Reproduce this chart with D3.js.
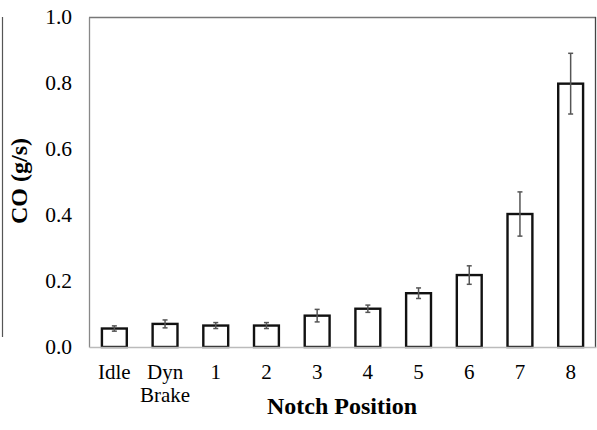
<!DOCTYPE html>
<html><head><meta charset="utf-8">
<script src="https://cdn.jsdelivr.net/npm/d3@7/dist/d3.min.js"></script>
<style>
body { margin: 0; }
svg text.t { font-family: "Liberation Serif", "Times New Roman", serif; }
</style>
</head><body><svg id="c" width="597" height="430"></svg>
<script>
const categories = ["Idle", "Dyn\nBrake", "1", "2", "3", "4", "5", "6", "7", "8"];
const values = [0.056, 0.070, 0.065, 0.065, 0.095, 0.116, 0.163, 0.218, 0.403, 0.798];
const errors = [0.008, 0.012, 0.009, 0.009, 0.019, 0.011, 0.016, 0.028, 0.067, 0.092];
const yTicks = [0, 0.2, 0.4, 0.6, 0.8, 1.0];

const svg = d3.select("#c");
const m = {l: 89, t: 17, r: 596, b: 347};
const x = d3.scaleBand().domain(categories).range([m.l, m.r]).paddingInner(0.47).paddingOuter(0.235);
const y = d3.scaleLinear().domain([0, 1]).range([m.b, m.t]);

// stray left line
svg.append("line").attr("x1", 2.5).attr("x2", 2.5).attr("y1", y(1)).attr("y2", 337).attr("stroke", "#555").attr("stroke-width", 1.2);

// frame
svg.append("line").attr("x1", m.l).attr("x2", m.r).attr("y1", m.t + 0.5).attr("y2", m.t + 0.5).attr("stroke", "#777").attr("stroke-width", 1.3);
svg.append("line").attr("x1", m.r - 0.5).attr("x2", m.r - 0.5).attr("y1", m.t).attr("y2", m.b).attr("stroke", "#444").attr("stroke-width", 1.3);

// y axis
const yAxis = svg.append("g").attr("transform", `translate(${m.l},0)`)
  .call(d3.axisLeft(y).tickValues(yTicks).tickFormat(d3.format(".1f")).tickSize(0).tickPadding(17))
  .attr("font-family", null).attr("font-size", 21);
yAxis.select(".domain").attr("stroke", "#888").attr("stroke-width", 1.3);
yAxis.selectAll("text").classed("t", true).attr("font-size", 21.5).attr("fill", "#000");

// bars
svg.append("g").selectAll("rect").data(categories).join("rect")
  .attr("x", d => x(d) + 1).attr("width", x.bandwidth() - 2)
  .attr("y", (d, i) => y(values[i])).attr("height", (d, i) => y(0) - y(values[i]))
  .attr("fill", "#fff").attr("stroke", "#111").attr("stroke-width", 2.4);

// error bars
const eg = svg.append("g").attr("stroke", "#555").attr("stroke-width", 1.5);
categories.forEach((c, i) => {
  const cx = x(c) + x.bandwidth() / 2;
  eg.append("line").attr("x1", cx).attr("x2", cx).attr("y1", y(values[i] + errors[i])).attr("y2", y(values[i] - errors[i]));
  [values[i] + errors[i], values[i] - errors[i]].forEach(v => {
    eg.append("line").attr("x1", cx - 2.5).attr("x2", cx + 2.5).attr("y1", y(v)).attr("y2", y(v));
  });
});

// x axis
const xAxis = svg.append("g").attr("transform", `translate(0,${m.b})`)
  .call(d3.axisBottom(x).tickSize(0).tickPadding(0))
  .attr("font-family", null).attr("font-size", 21);
xAxis.select(".domain").attr("stroke", "#bbb").attr("stroke-width", 1.5);
xAxis.selectAll("text").each(function(d) {
  const t = d3.select(this).text("").classed("t", true).attr("font-size", 21)
    .attr("fill", "#000").attr("y", 0).attr("dy", null);
  d.split("\n").forEach((s, k) => t.append("tspan").attr("x", 0).attr("y", 32 + k * 23).text(s));
});

// titles
svg.append("text").attr("class", "t").attr("x", 342).attr("y", 414).attr("text-anchor", "middle")
  .attr("font-size", 24).attr("font-weight", "bold").text("Notch Position");
svg.append("text").attr("class", "t").attr("transform", "translate(27,181) rotate(-90)").attr("text-anchor", "middle")
  .attr("font-size", 24).attr("font-weight", "bold").text("CO (g/s)");
</script></body></html>
